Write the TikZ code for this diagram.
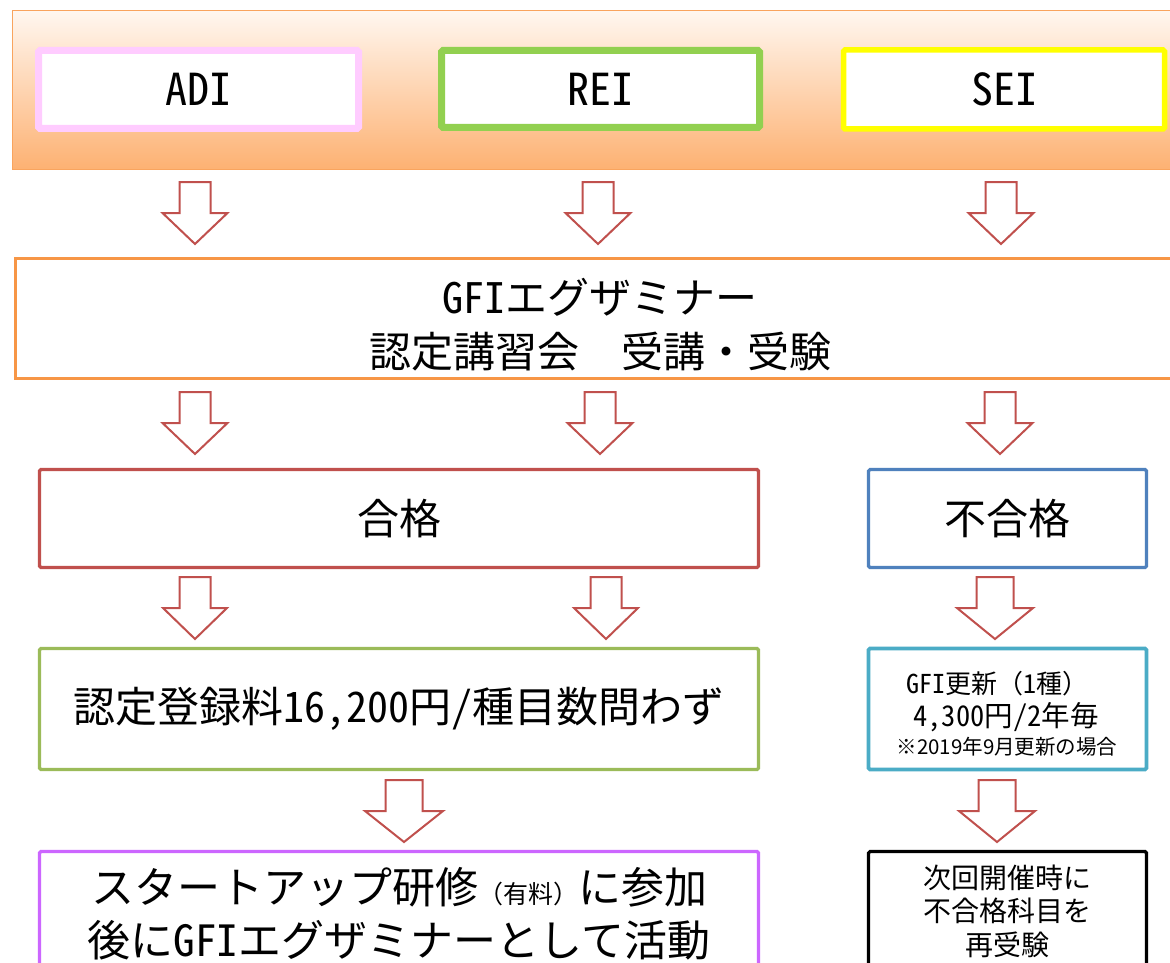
\documentclass[tikz,border=0pt]{standalone}
\usepackage{fontspec}
\setmainfont{Noto Sans CJK JP}
\newfontfamily\nlat[RawFeature=+hwid]{Noto Sans CJK JP}
\definecolor{bandtop}{HTML}{FFF7F0}
\definecolor{bandbot}{HTML}{FDB172}
\definecolor{bandline}{HTML}{F9A45E}
\definecolor{pinkc}{HTML}{FFCCFF}
\definecolor{greenc}{HTML}{92D050}
\definecolor{yellowc}{HTML}{FFFF00}
\definecolor{orangec}{HTML}{F79646}
\definecolor{redc}{HTML}{C0504D}
\definecolor{bluec}{HTML}{4F81BD}
\definecolor{olivec}{HTML}{9BBB59}
\definecolor{tealc}{HTML}{4BACC6}
\definecolor{purplec}{HTML}{CC66FF}
\newcommand{\barrow}[4]{%
  \draw[blockarrow] (#1-#3,#2) -- (#1+#3,#2) -- (#1+#3,#2+31) -- (#1+#4,#2+31)
    -- (#1,#2+62) -- (#1-#4,#2+31) -- (#1-#3,#2+31) -- cycle;}
\begin{document}
\begin{tikzpicture}[x=1pt,y=-1pt,
  box/.style={draw, fill=white, rounded corners=1.5pt, inner sep=0pt},
  thickbox/.style={box, line width=7pt},
  flowbox/.style={box, line width=3.2pt},
  big/.style={font=\fontsize{42}{54}\selectfont, align=center, inner sep=0pt},
  blockarrow/.style={draw=redc, line width=2pt, fill=white, line join=miter}]
\useasboundingbox (0,0) rectangle (1170,963);
\clip (0,0) rectangle (1170,963);
\fill[white] (0,0) rectangle (1170,963);

% top band
\shade[top color=bandtop, bottom color=bandbot] (12.5,10.5) rectangle (1185,169.5);
\draw[bandline, line width=1pt] (1185,10.5) -- (12.5,10.5) -- (12.5,169.5) -- (1185,169.5);

\node[thickbox, draw=pinkc, minimum width=320, minimum height=78] (adi) at (198.5,89.5)
  {\fontsize{44}{44}\selectfont\nlat ADI};
\node[thickbox, draw=greenc, minimum width=318, minimum height=77] (rei) at (600.5,89)
  {\fontsize{44}{44}\selectfont\nlat REI};
\node[box, draw=yellowc, line width=5.5pt, minimum width=321, minimum height=79] (sei) at (1004,89.5)
  {\fontsize{44}{44}\selectfont\nlat SEI};

\barrow{195}{182}{15.5}{32.5}
\barrow{598}{182}{15.5}{32.5}
\barrow{1001}{182}{15.5}{32.5}

% GFI course
\node[box, draw=orangec, line width=3.4pt, minimum width=1170, minimum height=120.5, rounded corners=0pt] (course) at (600.5,318.5) {};
\node[big] (coursetext) at (600,325)
  {{\nlat GFI}エグザミナー\\認定講習会　受講・受験};

\barrow{195}{392}{15.5}{32.5}
\barrow{600}{392}{15.5}{32.5}
\barrow{1000}{392}{15.5}{32.5}

\node[flowbox, draw=redc, minimum width=719, minimum height=98] (pass) at (399,518.5)
  {\fontsize{42}{42}\selectfont 合格};
\node[flowbox, draw=bluec, minimum width=278, minimum height=98] (fail) at (1007.5,518.5)
  {\fontsize{42}{42}\selectfont 不合格};

\barrow{195}{577}{15.5}{32}
\barrow{606}{577}{15.5}{32}
\barrow{995}{577}{18.5}{38}

\node[flowbox, draw=olivec, minimum width=719, minimum height=121] (fee) at (399,709)
  {\fontsize{42}{42}\selectfont 認定登録料{\nlat 16,200}円{\nlat /}種目数問わず};
\node[box, draw=tealc, line width=3.6pt, minimum width=278, minimum height=121] (renew) at (1007.5,709) {};
\node[inner sep=0pt] (renew1) at (997,684) {\fontsize{26}{26}\selectfont {\nlat GFI}更新（{\nlat 1}種）};
\node[inner sep=0pt] (renew2) at (1006,717) {\fontsize{28.5}{28.5}\selectfont {\nlat 4,300}円{\nlat /2}年毎};
\node[inner sep=0pt] (renew3) at (1007,747) {\fontsize{20.5}{20.5}\selectfont ※2019年9月更新の場合};

\barrow{404}{780}{18.5}{39}
\barrow{997}{780}{18.5}{38}

\node[flowbox, draw=purplec, minimum width=719, minimum height=160] (startup) at (399,931.5) {};
\node[big, font=\fontsize{43}{53}\selectfont] (startuptext) at (399,914)
  {スタートアップ研修{\fontsize{25}{25}\selectfont（有料）}に参加\\後に{\nlat GFI}エグザミナーとして活動};
\node[flowbox, draw=black, minimum width=278, minimum height=160] (retry) at (1007.5,931.5) {};
\node[align=center, inner sep=0pt, font=\fontsize{28}{33.5}\selectfont] (retrytext) at (1007,911)
  {次回開催時に\\不合格科目を\\再受験};
\end{tikzpicture}
\end{document}
